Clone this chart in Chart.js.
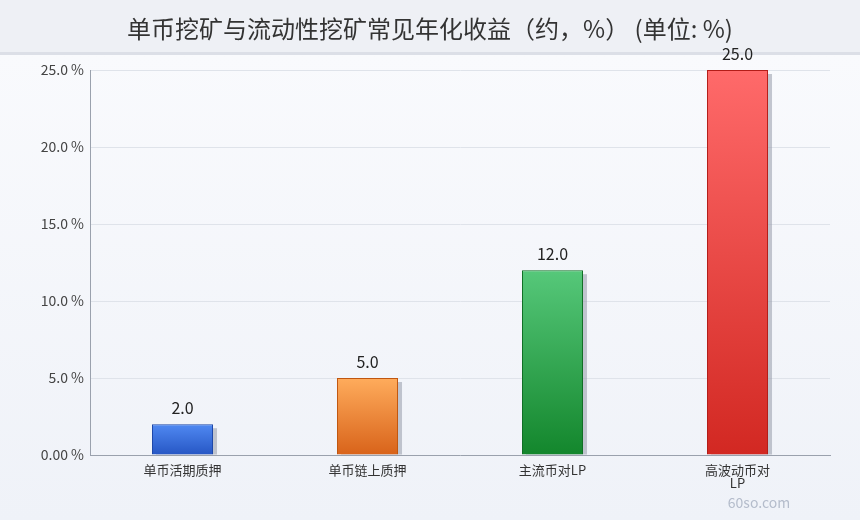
<!DOCTYPE html>
<html>
<head>
<meta charset="utf-8">
<script src="https://cdn.jsdelivr.net/npm/chart.js@4/dist/chart.umd.min.js"></script>
<style>
  html, body { margin: 0; padding: 0; }
  body {
    width: 860px; height: 520px; overflow: hidden;
    background: linear-gradient(to bottom, #eef0f5 0, #eef0f5 52px, #dcdfe7 52px, #dcdfe7 55px, #f9fafd 55px, #eff2f8 100%);
  }
  #wrap { position: relative; width: 860px; height: 520px; }
  canvas { display: block; }
  #title {
    position: absolute; left: 0; top: 11px; width: 860px; text-align: center;
    font: 24px "Noto Sans CJK SC", "Noto Sans", sans-serif; color: #333; line-height: 34px;
  }
</style>
</head>
<body>
<div id="wrap">
  <div id="title">单币挖矿与流动性挖矿常见年化收益（约，%） (单位: %)</div>
  <canvas id="yieldChart" width="860" height="520"></canvas>
</div>
<script>
// single-coin vs LP mining yields (approx, %)
const categories = ['单币活期质押', '单币链上质押', '主流币对LP', ['高波动币对', 'LP']];
const yields = [2.0, 5.0, 12.0, 25.0];
const yTicks = [0, 5, 10, 15, 20, 25];
const yTickLabels = ['0.00 %', '5.0 %', '10.0 %', '15.0 %', '20.0 %', '25.0 %'];

const topColors = ['#5089f2', '#ffac5c', '#56c87a', '#ff6a6a'];
const bottomColors = ['#2656c4', '#d8631a', '#13862c', '#d22822'];
const borderColors = ['#1d47a8', '#c0560f', '#0f6e24', '#b31d18'];

const FONT = '"Noto Sans CJK SC", "Noto Sans", sans-serif';

function barGradient(context) {
    const chart = context.chart;
    const area = chart.chartArea;
    const i = context.dataIndex;
    if (!area || !chart.scales.y) return topColors[i];
    const top = chart.scales.y.getPixelForValue(yields[i]);
    const bottom = chart.scales.y.getPixelForValue(0);
    const g = chart.ctx.createLinearGradient(0, top, 0, bottom > top ? bottom : top + 1);
    g.addColorStop(0, topColors[i]);
    g.addColorStop(1, bottomColors[i]);
    return g;
}

// grey drop shadow behind each bar
const barShadow = {
    id: 'barShadow',
    beforeDatasetsDraw(chart) {
        const ctx = chart.ctx;
        ctx.save();
        ctx.fillStyle = 'rgba(150, 155, 170, 0.55)';
        chart.getDatasetMeta(0).data.forEach(bar => {
            const w = bar.width;
            ctx.fillRect(bar.x - w / 2 + 4, bar.y + 4, w, bar.base - bar.y - 4);
        });
        ctx.restore();
    }
};

// value text above bars + watermark
const valueLabels = {
    id: 'valueLabels',
    afterDatasetsDraw(chart) {
        const ctx = chart.ctx;
        ctx.save();
        ctx.font = '16px ' + FONT;
        ctx.fillStyle = '#222';
        ctx.textAlign = 'center';
        ctx.textBaseline = 'bottom';
        chart.getDatasetMeta(0).data.forEach((bar, i) => {
            ctx.fillText(yields[i].toFixed(1), bar.x, bar.y - 8);
        });
        ctx.font = '14px ' + FONT;
        ctx.fillStyle = '#b4bccb';
        ctx.textBaseline = 'middle';
        ctx.fillText('60so.com', 759, 503);
        ctx.restore();
    }
};

new Chart(document.getElementById('yieldChart'), {
    type: 'bar',
    data: {
        labels: categories,
        datasets: [{
            data: yields,
            backgroundColor: barGradient,
            borderColor: borderColors,
            borderWidth: 1,
            categoryPercentage: 1,
            barPercentage: 0.33
        }]
    },
    options: {
        responsive: false,
        animation: false,
        devicePixelRatio: 1,
        layout: { padding: { left: 0, right: 30, top: 70, bottom: 0 } },
        plugins: {
            legend: { display: false },
            tooltip: { enabled: false },
            title: { display: false }
        },
        scales: {
            x: {
                grid: { display: false, drawTicks: false },
                border: { display: true, color: '#9aa1ad', width: 1 },
                ticks: {
                    color: '#333',
                    font: { family: FONT, size: 13, lineHeight: 1.0 },
                    padding: 9,
                    maxRotation: 0,
                    autoSkip: false
                },
                afterFit(scale) { scale.height = 65; }
            },
            y: {
                min: 0,
                max: 25,
                afterBuildTicks(scale) { scale.ticks = yTicks.map(v => ({ value: v })); },
                grid: { color: '#dfe3ea', drawTicks: false },
                border: { display: true, color: '#9aa1ad', width: 1 },
                ticks: {
                    color: '#444',
                    font: { family: FONT, size: 14 },
                    padding: 6,
                    callback: (v, idx) => yTickLabels[yTicks.indexOf(v)]
                },
                afterFit(scale) { scale.width = 90; }
            }
        }
    },
    plugins: [barShadow, valueLabels]
});
</script>
</body>
</html>
